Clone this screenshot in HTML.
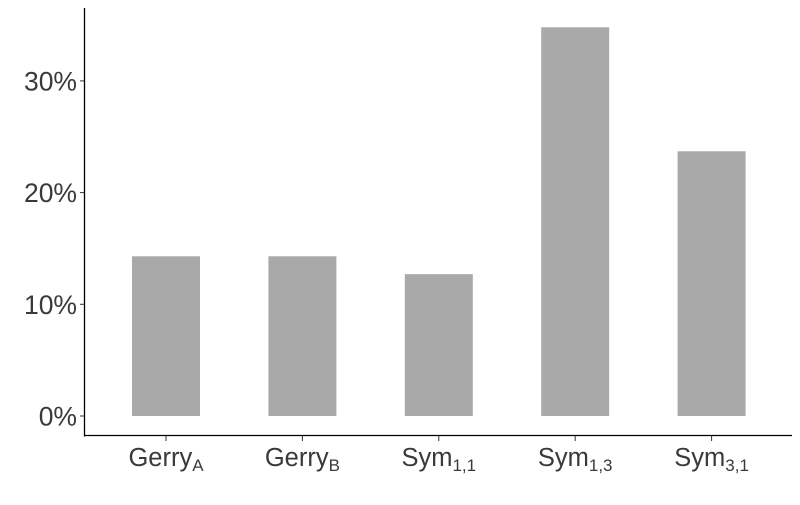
<!DOCTYPE html>
<html><head><meta charset="utf-8"><style>
body{margin:0;background:#fff}
svg text{font-family:"Liberation Sans",Arial,sans-serif;fill:#3a3a3a}
</style></head><body>
<svg id="c" width="800" height="500"></svg>
<script>
const categories=["Gerry","Gerry","Sym","Sym","Sym"];
const subscripts=["A","B","1,1","1,3","3,1"];
const values=[14.3,14.3,12.7,34.8,23.7];
const yTicks=[0,10,20,30];
const tickLabels=["0%","10%","20%","30%"];
const NS="http://www.w3.org/2000/svg";
const svg=document.getElementById('c');
const y=v=>416-v*11.17;
const x=i=>166+i*136.4;
function mk(t,a){const e=document.createElementNS(NS,t);for(const k in a)e.setAttribute(k,a[k]);svg.appendChild(e);return e;}
values.forEach((v,i)=>{
 const r=mk('rect',{x:x(i)-34,y:y(v),width:68,height:y(0)-y(v),fill:'#a9a9a9'});
 
 
 const tk=mk('line',{x1:x(i),x2:x(i),y1:436,y2:441,stroke:'#333','stroke-width':1});
 
 
 const t=mk('text',{x:x(i),y:466,'text-anchor':'middle','font-size':25.5});
 
 
 t.textContent=categories[i];
 const s=document.createElementNS(NS,'tspan');s.setAttribute('font-size',17);s.setAttribute('dy',5);s.textContent=subscripts[i];t.appendChild(s);
});
yTicks.forEach((v,i)=>{
 const tk=mk('line',{x1:80,x2:85,y1:y(v),y2:y(v),stroke:'#333','stroke-width':1});
 
 
 const t=mk('text',{x:77,y:y(v)+9.5,'text-anchor':'end','font-size':26.5});
 
 
 t.textContent=tickLabels[i];
});
const ya=mk('line',{x1:84.5,x2:84.5,y1:8,y2:436.5,stroke:'#000','stroke-width':1.3});


const xa=mk('line',{x1:84,x2:792,y1:435.5,y2:435.5,stroke:'#000','stroke-width':1.3});


</script>
</body></html>
